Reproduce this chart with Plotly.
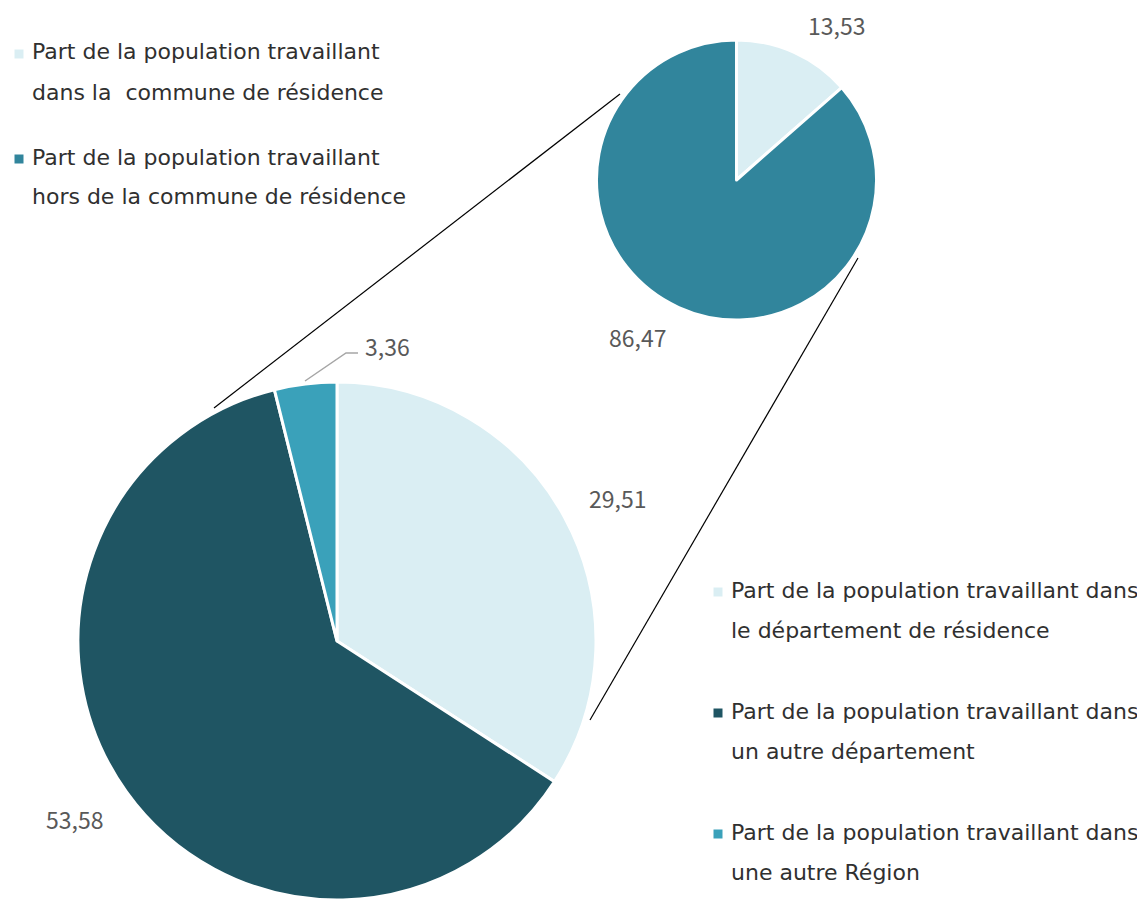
import plotly.graph_objects as go

W, H = 1145, 900
OFF = 8  # page body margin in the browser

# Data
small_labels = ["Part de la population travaillant<br>dans la  commune de résidence",
                "Part de la population travaillant<br>hors de la commune de résidence"]
small_values = [13.53, 86.47]
small_colors = ["#DAEEF3", "#31859C"]

big_labels = ["Part de la population travaillant dans<br>le département de résidence",
              "Part de la population travaillant dans<br>un autre département",
              "Part de la population travaillant dans<br>une autre Région"]
big_values = [29.51, 53.58, 3.36]
big_colors = ["#DAEEF3", "#1F5563", "#3AA1BA"]

NUM_FONT = "Noto Sans CJK JP"
LEG_FONT = "DejaVu Sans"

def px(x):
    return (x - OFF) / W

def py(y):
    return 1 - (y - OFF) / H

# geometry (screen pixels)
SC = (736.5, 180.0); SR = 140.0
BC = (337.0, 641.0); BR = 259.0

fig = go.Figure()
fig.add_trace(go.Pie(
    values=small_values, labels=small_labels, sort=False, direction="clockwise", rotation=0,
    marker=dict(colors=small_colors, line=dict(color="white", width=3)),
    textinfo="none", hoverinfo="label+value", showlegend=False,
    domain=dict(x=[px(SC[0] - SR), px(SC[0] + SR)], y=[py(SC[1] + SR), py(SC[1] - SR)]),
))
fig.add_trace(go.Pie(
    values=big_values, labels=big_labels, sort=False, direction="clockwise", rotation=0,
    marker=dict(colors=big_colors, line=dict(color="white", width=3)),
    textinfo="none", hoverinfo="label+value", showlegend=False,
    domain=dict(x=[px(BC[0] - BR), px(BC[0] + BR)], y=[py(BC[1] + BR), py(BC[1] - BR)]),
))

shapes = []
annotations = []

# connector lines
conn = [((620, 94), (214, 408)), ((858, 258), (590, 720))]
for (x0, y0), (x1, y1) in conn:
    shapes.append(dict(type="line", xref="paper", yref="paper",
                       x0=px(x0), y0=py(y0), x1=px(x1), y1=py(y1),
                       line=dict(color="black", width=1.2)))

# leader line for 3,36
shapes.append(dict(type="path", xref="paper", yref="paper",
                   path=f"M {px(305)},{py(381)} L {px(346)},{py(353)} L {px(358)},{py(353)}",
                   line=dict(color="#A6A6A6", width=1.5)))

def fmt(v):
    return f"{v:.2f}".replace(".", ",")

label_pos_small = [(836, 25), (637, 337)]
label_pos_big = [(617, 498), (74, 819), (387, 346)]
for v, (x, y) in list(zip(small_values, label_pos_small)) + list(zip(big_values, label_pos_big)):
    annotations.append(dict(text=fmt(v), x=px(x), y=py(y), xref="paper", yref="paper",
                            showarrow=False, xanchor="center", yanchor="middle",
                            font=dict(family=NUM_FONT, size=23, color="#595959")))

# legends
def add_legend(labels, colors, x_marker, x_text, y_first, step, line_gap):
    for i, (lab, col) in enumerate(zip(labels, colors)):
        yc = y_first + i * step
        shapes.append(dict(type="rect", xref="paper", yref="paper",
                           x0=px(x_marker - 4.5), x1=px(x_marker + 4.5),
                           y0=py(yc + 2 + 4.5), y1=py(yc + 2 - 4.5),
                           fillcolor=col, line=dict(width=0)))
        for j, line in enumerate(lab.split("<br>")):
            annotations.append(dict(text=line, x=px(x_text), y=py(yc + j * line_gap),
                                    xref="paper", yref="paper",
                                    showarrow=False, xanchor="left", yanchor="middle", align="left",
                                    font=dict(family=LEG_FONT, size=22, color="#303030")))

add_legend(small_labels, small_colors, 19, 30, 52, 105, 40)
add_legend(big_labels, big_colors, 718, 729, 590, 121, 40)

fig.update_layout(width=W, height=H, margin=dict(l=0, r=0, t=0, b=0),
                  paper_bgcolor="white", plot_bgcolor="white",
                  shapes=shapes, annotations=annotations, showlegend=False)

fig.write_html("out.html")
